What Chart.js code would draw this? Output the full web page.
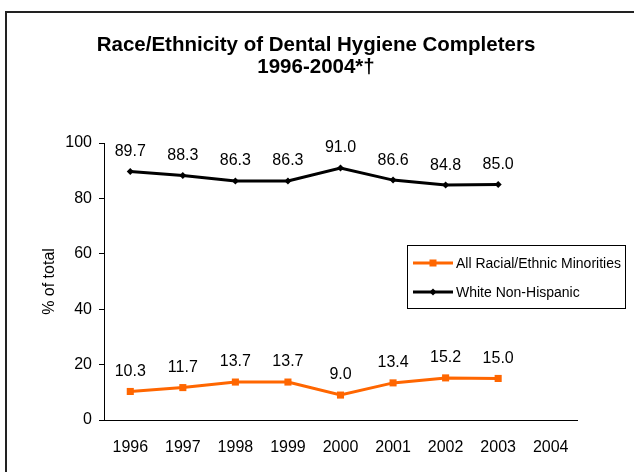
<!DOCTYPE html>
<html>
<head>
<meta charset="utf-8">
<script src="https://cdn.jsdelivr.net/npm/chart.js@4/dist/chart.umd.min.js"></script>
<style>
  html, body { margin: 0; padding: 0; background: #fff; }
  #wrap { width: 634px; height: 472px; position: relative; }
</style>
</head>
<body>
<div id="wrap"><canvas id="chart"></canvas></div>
<script>
let years = ['1996', '1997', '1998', '1999', '2000', '2001', '2002', '2003', '2004']

let minorities = [10.3, 11.7, 13.7, 13.7, 9.0, 13.4, 15.2, 15.0, null]
let whiteNonHispanic = [89.7, 88.3, 86.3, 86.3, 91.0, 86.6, 84.8, 85.0, null]

let seriesNames = ['All Racial/Ethnic Minorities', 'White Non-Hispanic']
let yTicks = [0, 20, 40, 60, 80, 100]
let titleLines = ['Race/Ethnicity of Dental Hygiene Completers', '1996-2004*\u2020']

let fontFamily = '"Liberation Sans", Arial, sans-serif'

// frame round the chart: left and top edges only show in the picture
let framePlugin = {
    id: 'frame',
    beforeDraw: chart => {
        let ctx = chart.ctx
        ctx.save()
        ctx.fillStyle = '#fff'
        ctx.fillRect(0, 0, chart.width, chart.height)
        ctx.strokeStyle = '#222'
        ctx.lineWidth = 2
        ctx.beginPath()
        ctx.moveTo(6, chart.height)
        ctx.lineTo(6, 12)
        ctx.lineTo(chart.width, 12)
        ctx.stroke()
        ctx.restore()
    }
}

// title is centred on the whole frame, not on the plot
let titlePlugin = {
    id: 'frameTitle',
    afterDraw: chart => {
        let ctx = chart.ctx
        ctx.save()
        ctx.font = 'bold 20.5px ' + fontFamily
        ctx.fillStyle = '#000'
        ctx.textAlign = 'center'
        ctx.textBaseline = 'middle'
        titleLines.forEach((line, i) => {
            ctx.fillText(line, 316, 45 + i * 22.5)
        })
        ctx.restore()
    }
}

// value labels above each point
let valueLabels = {
    id: 'valueLabels',
    afterDatasetsDraw: chart => {
        let ctx = chart.ctx
        ctx.save()
        ctx.font = '16px ' + fontFamily
        ctx.fillStyle = '#000'
        ctx.textAlign = 'center'
        ctx.textBaseline = 'middle'
        chart.data.datasets.forEach((ds, i) => {
            let meta = chart.getDatasetMeta(i)
            meta.data.forEach((pt, j) => {
                let v = ds.data[j]
                if (v === null) return
                ctx.fillText(v.toFixed(1), pt.x, pt.y - 20)
            })
        })
        ctx.restore()
    }
}

// boxed legend sitting inside the plot, on the right
let boxLegend = {
    id: 'boxLegend',
    afterDraw: chart => {
        let ctx = chart.ctx
        let x = 407, y = 245, w = 218, h = 63
        ctx.save()
        ctx.fillStyle = '#fff'
        ctx.fillRect(x, y, w, h)
        ctx.strokeStyle = '#000'
        ctx.lineWidth = 1
        ctx.strokeRect(x + 0.5, y + 0.5, w, h)
        ctx.font = '14px ' + fontFamily
        ctx.textBaseline = 'middle'
        ctx.textAlign = 'left'
        chart.data.datasets.forEach((ds, i) => {
            let cy = y + 18 + i * 29
            ctx.strokeStyle = ds.borderColor
            ctx.lineWidth = 3
            ctx.beginPath()
            ctx.moveTo(x + 6, cy)
            ctx.lineTo(x + 46, cy)
            ctx.stroke()
            ctx.fillStyle = ds.borderColor
            if (ds.pointStyle === 'rect') {
                ctx.fillRect(x + 22.5, cy - 3.5, 7, 7)
            } else {
                ctx.beginPath()
                ctx.moveTo(x + 26, cy - 3.5)
                ctx.lineTo(x + 29.5, cy)
                ctx.lineTo(x + 26, cy + 3.5)
                ctx.lineTo(x + 22.5, cy)
                ctx.closePath()
                ctx.fill()
            }
            ctx.fillStyle = '#000'
            ctx.fillText(ds.label, x + 49, cy + 1)
        })
        ctx.restore()
    }
}

window.addEventListener('DOMContentLoaded', () => {
    chart = new Chart(
        document.getElementById('chart'),
        {
            type: 'line',
            data: {
                labels: years,
                datasets: [
                    {
                        label: seriesNames[0],
                        data: minorities,
                        borderColor: '#ff6600',
                        backgroundColor: '#ff6600',
                        borderWidth: 3,
                        pointStyle: 'rect',
                        pointRadius: 5,
                        pointBorderWidth: 0,
                        tension: 0
                    },
                    {
                        label: seriesNames[1],
                        data: whiteNonHispanic,
                        borderColor: '#000000',
                        backgroundColor: '#000000',
                        borderWidth: 3,
                        pointStyle: 'rectRot',
                        pointRadius: 3.5,
                        pointBorderWidth: 0,
                        tension: 0
                    }
                ]
            },
            options: {
                responsive: true,
                maintainAspectRatio: false,
                animation: false,
                layout: {
                    padding: { left: 30, right: 57, top: 143, bottom: 14 }
                },
                plugins: {
                    legend: { display: false },
                    tooltip: { enabled: false },
                    title: { display: false }
                },
                scales: {
                    x: {
                        offset: true,
                        grid: { display: false, offset: true },
                        border: { display: true, color: '#000', width: 1 },
                        ticks: {
                            color: '#000',
                            font: { family: fontFamily, size: 16 },
                            padding: 10,
                            maxRotation: 0
                        },
                        afterFit: scale => { scale.height = 38 }
                    },
                    y: {
                        min: 0,
                        max: 100,
                        afterBuildTicks: scale => {
                            scale.ticks = yTicks.map(v => ({ value: v }))
                        },
                        grid: {
                            drawOnChartArea: false,
                            drawTicks: true,
                            tickLength: 5,
                            color: '#000'
                        },
                        border: { display: true, color: '#000', width: 1 },
                        ticks: {
                            color: '#000',
                            font: { family: fontFamily, size: 16 },
                            padding: 7
                        },
                        title: {
                            display: true,
                            text: '% of total',
                            color: '#000',
                            font: { family: fontFamily, size: 16 },
                            padding: { top: 10, bottom: 0 }
                        },
                        afterFit: scale => { scale.width = 74 }
                    }
                }
            },
            plugins: [framePlugin, titlePlugin, valueLabels, boxLegend]
        }
    )
})
</script>
</body>
</html>
